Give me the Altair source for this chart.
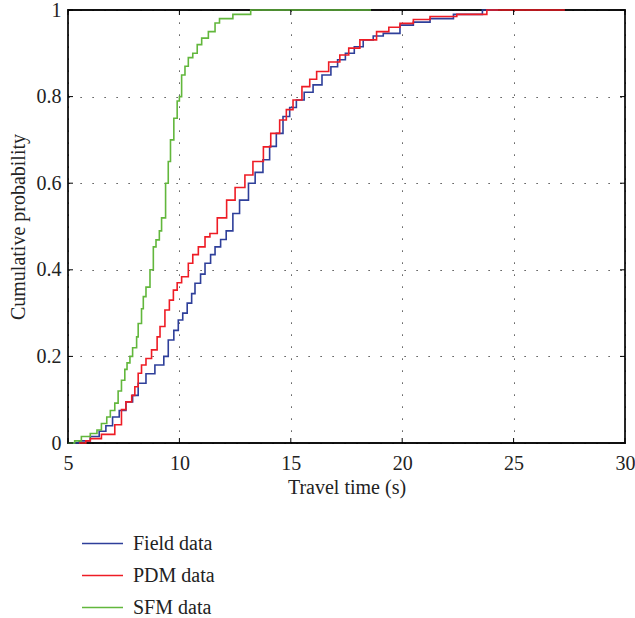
import altair as alt
import pandas as pd

series_names = ["Field data", "PDM data", "SFM data"]
series_colors = ["#2e3f9a", "#ee1c25", "#62b73c"]

field_time = [5.0, 5.5, 6.0, 6.4, 6.7, 7.0, 7.3, 7.6, 7.9, 8.15, 8.5, 8.9, 9.3, 9.5, 9.75, 9.95,
              10.15, 10.35, 10.55, 10.7, 10.95, 11.15, 11.4, 11.6, 11.85, 12.1, 12.4, 12.7, 13.1,
              13.4, 13.75, 14.05, 14.35, 14.65, 14.95, 15.25, 15.6, 16.0, 16.4, 16.8, 17.1, 17.45,
              17.85, 18.25, 18.7, 19.15, 19.9, 20.5, 21.25, 22.3, 23.6, 24.3]
field_prob = [0.0, 0.005, 0.015, 0.027, 0.04, 0.06, 0.075, 0.095, 0.11, 0.138, 0.16, 0.18, 0.2,
              0.238, 0.26, 0.284, 0.3, 0.323, 0.345, 0.369, 0.39, 0.415, 0.435, 0.453, 0.47, 0.49,
              0.53, 0.561, 0.6, 0.625, 0.654, 0.685, 0.715, 0.754, 0.775, 0.792, 0.81, 0.827, 0.85,
              0.869, 0.885, 0.9, 0.915, 0.931, 0.94, 0.946, 0.965, 0.972, 0.98, 0.99, 1.0, 1.0]

pdm_time = [5.5, 5.8, 6.0, 6.5, 7.1, 7.4, 7.6, 7.86, 8.0, 8.15, 8.3, 8.5, 8.75, 9.0, 9.13, 9.35,
            9.55, 9.73, 9.9, 10.1, 10.4, 10.6, 10.85, 11.15, 11.37, 11.7, 12.12, 12.5, 12.94, 13.3,
            13.77, 14.1, 14.5, 14.8, 15.1, 15.5, 15.85, 16.16, 16.7, 17.2, 17.6, 18.1, 18.85, 19.4,
            19.9, 20.5, 21.25, 22.45, 23.8, 27.3]
pdm_prob = [0.0, 0.005, 0.01, 0.02, 0.042, 0.077, 0.095, 0.11, 0.13, 0.161, 0.18, 0.195, 0.215,
            0.245, 0.269, 0.307, 0.33, 0.353, 0.37, 0.384, 0.415, 0.435, 0.453, 0.476, 0.484, 0.52,
            0.561, 0.59, 0.619, 0.65, 0.684, 0.715, 0.746, 0.77, 0.792, 0.823, 0.84, 0.858, 0.88,
            0.896, 0.912, 0.931, 0.95, 0.96, 0.969, 0.978, 0.985, 0.99, 1.0, 1.0]

sfm_time = [5.0, 5.3, 5.6, 6.0, 6.3, 6.5, 6.74, 6.9, 7.1, 7.25, 7.4, 7.55, 7.65, 7.78, 7.9, 8.08,
            8.15, 8.3, 8.38, 8.5, 8.68, 8.83, 8.95, 9.1, 9.2, 9.38, 9.5, 9.6, 9.75, 9.9, 10.0, 10.1,
            10.25, 10.4, 10.6, 10.8, 11.0, 11.3, 11.6, 11.8, 12.4, 13.2, 18.6]
sfm_prob = [0.0, 0.005, 0.015, 0.022, 0.03, 0.045, 0.06, 0.075, 0.092, 0.12, 0.145, 0.17, 0.185,
            0.2, 0.22, 0.245, 0.276, 0.31, 0.338, 0.36, 0.4, 0.453, 0.469, 0.49, 0.52, 0.6, 0.65,
            0.7, 0.75, 0.79, 0.8, 0.85, 0.87, 0.89, 0.9, 0.92, 0.935, 0.95, 0.97, 0.98, 0.99, 1.0, 1.0]

x_ticks = [5, 10, 15, 20, 25, 30]
y_ticks = [0, 0.2, 0.4, 0.6, 0.8, 1.0]

rows = []
for name, xs, ps in [("Field data", field_time, field_prob),
                     ("PDM data", pdm_time, pdm_prob),
                     ("SFM data", sfm_time, sfm_prob)]:
    for i, (x, p) in enumerate(zip(xs, ps)):
        rows.append({"series": name, "time": x, "prob": p, "idx": i})
df = pd.DataFrame(rows)

W, H = 557, 433
FONT = "Liberation Serif"
FS = 20

xscale = alt.Scale(domain=[5, 30], nice=False, zero=False)
yscale = alt.Scale(domain=[0, 1], nice=False, zero=False)
x_axis = alt.Axis(title="Travel time (s)", values=x_ticks, labelPadding=10, titlePadding=4,
                  labelFlush=False)
y_axis = alt.Axis(title="Cumulative probability", values=y_ticks, format=".1~f",
                  labelPadding=7, titlePadding=8, labelFlush=False)

lines = alt.Chart(df).mark_line(interpolate="step-after", strokeWidth=1.6).encode(
    x=alt.X("time:Q", scale=xscale, axis=x_axis),
    y=alt.Y("prob:Q", scale=yscale, axis=y_axis),
    color=alt.Color("series:N", scale=alt.Scale(domain=series_names, range=series_colors),
                    legend=alt.Legend(title=None, orient="none", legendX=13, legendY=512,
                                      symbolType="stroke", symbolSize=1681, symbolStrokeWidth=1.5,
                                      labelFont=FONT, labelFontSize=FS, labelColor="#222",
                                      labelOffset=9, rowPadding=0, padding=0)),
    order=alt.Order("idx:Q"),
)

xt = pd.DataFrame({"time": x_ticks})
yt = pd.DataFrame({"prob": y_ticks})

tick_x_bottom = alt.Chart(xt).mark_rule(color="black", strokeWidth=1).encode(
    x=alt.X("time:Q", scale=xscale, axis=x_axis), y=alt.value(H), y2=alt.value(H - 5))
tick_x_top = alt.Chart(xt).mark_rule(color="black", strokeWidth=1).encode(
    x=alt.X("time:Q", scale=xscale, axis=x_axis), y=alt.value(0), y2=alt.value(5))
tick_y_left = alt.Chart(yt).mark_rule(color="black", strokeWidth=1).encode(
    y=alt.Y("prob:Q", scale=yscale, axis=y_axis), x=alt.value(0), x2=alt.value(5))
tick_y_right = alt.Chart(yt).mark_rule(color="black", strokeWidth=1).encode(
    y=alt.Y("prob:Q", scale=yscale, axis=y_axis), x=alt.value(W), x2=alt.value(W - 5))

chart = alt.layer(lines, tick_x_bottom, tick_x_top, tick_y_left, tick_y_right).properties(
    width=W, height=H,
    autosize=alt.AutoSizeParams(type="none"),
    padding={"left": 68, "top": 10, "right": 10, "bottom": 175},
).configure_view(
    stroke="#111", strokeWidth=1.8
).configure_axis(
    grid=True, gridColor="black", gridDash=[1.2, 10.8], gridWidth=1, gridOpacity=0.85,
    domain=False, ticks=False,
    labelFont=FONT, labelFontSize=FS, labelColor="#222",
    titleFont=FONT, titleFontSize=FS, titleFontWeight="normal", titleColor="#222",
)

chart.save("out.html", embed_options={"renderer": "svg", "actions": False})
